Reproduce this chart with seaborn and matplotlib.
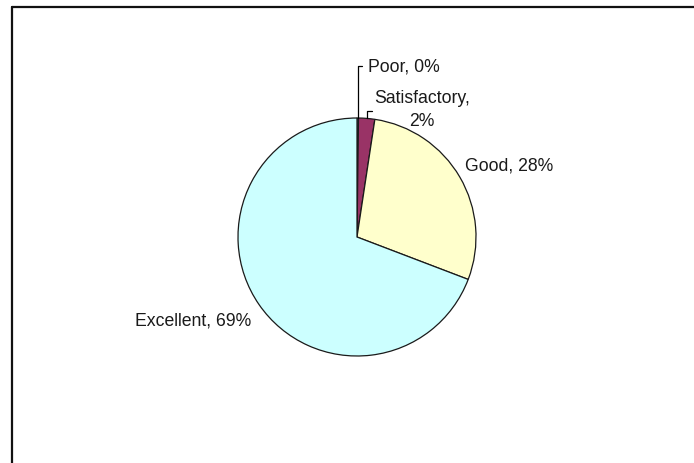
import numpy as np
import matplotlib
matplotlib.use("Agg")
import matplotlib.pyplot as plt
import seaborn as sns
from matplotlib.lines import Line2D

categories = ["Poor", "Satisfactory", "Good", "Excellent"]
values = [0.2, 2.2, 28.4, 69.2]
pct_labels = ["0%", "2%", "28%", "69%"]
colors = ["#9999FF", "#993366", "#FFFFCC", "#CCFFFF"]

sns.set_theme(style="white")
plt.rcParams['font.family'] = ['Liberation Sans', 'DejaVu Sans']

W, H = 694, 464
fig = plt.figure(figsize=(W / 100, H / 100), dpi=100)
fig.patch.set_facecolor("white")

# pie centre (357, 238) px from top-left, radius 119 px
cx, cy, r = 357, 238, 119
ax = fig.add_axes([(cx - r) / W, (H - cy - r) / H, 2 * r / W, 2 * r / H])
wedges, _ = ax.pie(values, colors=colors, startangle=90, counterclock=False,
                   wedgeprops=dict(edgecolor="#1a1a1a", linewidth=0.9))
ax.set_xlim(-1, 1)
ax.set_ylim(-1, 1)
ax.axis("off")

def px(xp, yp):
    return (xp - cx) / r, (cy - yp) / r

fs = 12.7
tc = "#1a1a1a"

def mid_point(w):
    a = np.deg2rad((w.theta1 + w.theta2) / 2)
    return np.cos(a), np.sin(a)

# Poor
x0, y0 = mid_point(wedges[0])
_, ly = px(0, 67)
lx, _ = px(362, 0)
ax.add_line(Line2D([x0, x0, lx], [y0, ly, ly], color="black", lw=0.9, clip_on=False))
tx, _ = px(368, 0)
ax.text(tx, ly, f"{categories[0]}, {pct_labels[0]}", ha="left", va="center", fontsize=fs, color=tc)

# Satisfactory
x1, y1 = mid_point(wedges[1])
_, ly1 = px(0, 112)
lx1, _ = px(372, 0)
ax.add_line(Line2D([x1, x1, lx1], [y1, ly1, ly1], color="black", lw=0.9, clip_on=False))
sx, sy = px(422, 110)
ax.text(sx, sy, f"{categories[1]},\n{pct_labels[1]}", ha="center", va="center",
        fontsize=fs, color=tc, linespacing=1.5, multialignment="center")

# Good
gx, gy = px(465, 166)
ax.text(gx, gy, f"{categories[2]}, {pct_labels[2]}", ha="left", va="center", fontsize=fs, color=tc)

# Excellent
ex, ey = px(251, 321)
ax.text(ex, ey, f"{categories[3]}, {pct_labels[3]}", ha="right", va="center", fontsize=fs, color=tc)

# chart border (top and left visible)
bx, by = 12 / W, 1 - 8 / H
fig.add_artist(Line2D([bx, 1], [by, by], transform=fig.transFigure, color="#111111", lw=1.6))
fig.add_artist(Line2D([bx, bx], [0, by], transform=fig.transFigure, color="#111111", lw=1.6))

fig.savefig("out.png", dpi=100)
